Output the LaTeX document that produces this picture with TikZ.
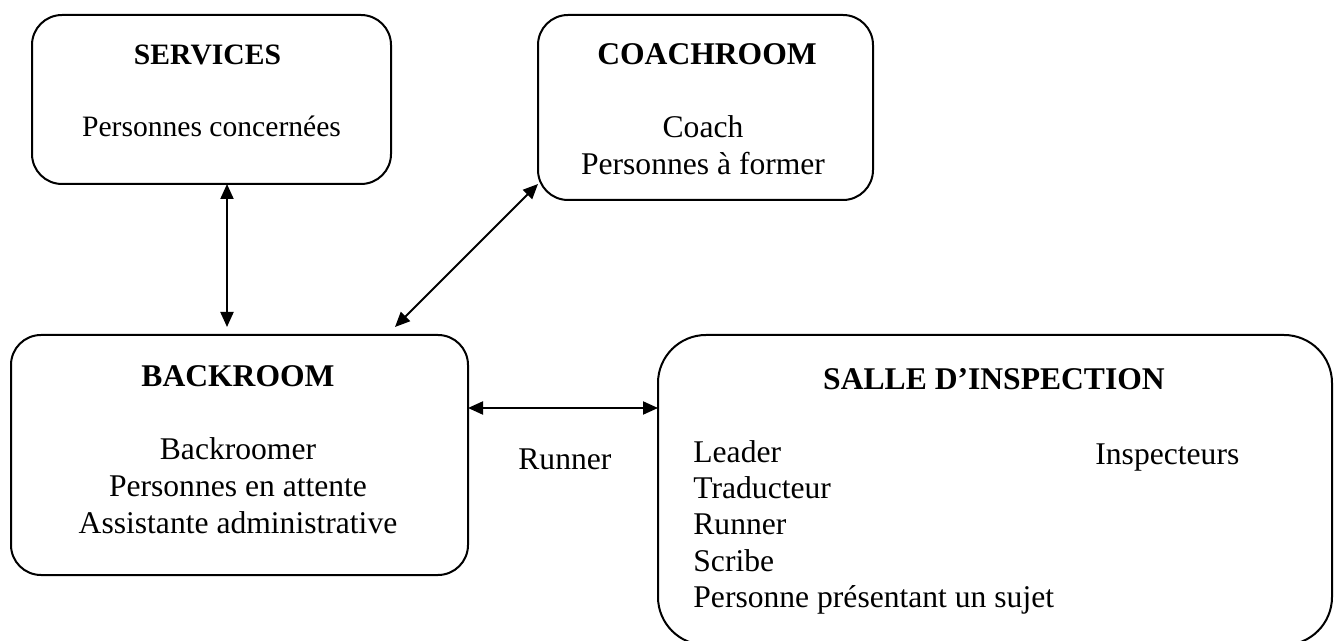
\documentclass[tikz,border=0pt]{standalone}
\usepackage{fontspec}
\setmainfont{Liberation Serif}
\usetikzlibrary{arrows.meta,calc}

\tikzset{
  room/.style={draw, line width=1pt, inner sep=0pt, outer sep=0pt},
  smallroom/.style={room, rounded corners=15pt},
  bigroom/.style={room, rounded corners=24pt},
  txt/.style={inner sep=0pt, anchor=base, font=\fontsize{15.8pt}{18pt}\selectfont},
  title/.style={txt, font=\fontsize{15.8pt}{18pt}\selectfont\bfseries},
  small/.style={font=\fontsize{14.8pt}{18pt}\selectfont},
  smalltitle/.style={font=\fontsize{14.8pt}{18pt}\selectfont\bfseries},
  ltxt/.style={txt, anchor=base west},
  link/.style={line width=1pt, {Triangle[length=7.5pt,width=6.5pt]}-{Triangle[length=7.5pt,width=6.5pt]}}
}

\begin{document}
\begin{tikzpicture}[x=0.5pt, y=-0.5pt]
  \path[use as bounding box, clip] (0,0) rectangle (1339,641);

  % rooms
  \node[smallroom, minimum width=179.5pt, minimum height=84.5pt]  (services) at (211.5,99.5) {};
  \node[smallroom, minimum width=167.5pt, minimum height=92.5pt]  (coach)    at (705.5,107.5) {};
  \node[smallroom, minimum width=228.5pt, minimum height=120pt]   (backroom) at (239.5,455) {};
  \node[bigroom,   minimum width=337pt,   minimum height=155pt]   (salle)    at (995,490) {};

  % SERVICES
  \node[title, smalltitle] (t-services) at (207.5,65) {SERVICES};
  \node[txt, small]        (s1) at (211.5,137) {Personnes concernées};

  % COACHROOM
  \node[title] (t-coach) at (707,65) {COACHROOM};
  \node[txt]   (c1) at (703,138) {Coach};
  \node[txt]   (c2) at (703,175) {Personnes à former};

  % BACKROOM
  \node[title] (t-back) at (238,387) {BACKROOM};
  \node[txt]   (b1) at (238,460) {Backroomer};
  \node[txt]   (b2) at (238,497) {Personnes en attente};
  \node[txt]   (b3) at (238,533) {Assistante administrative};

  % SALLE D'INSPECTION
  \node[title] (t-salle) at (994,390) {SALLE D’INSPECTION};
  \node[ltxt]  (i1) at (693,463) {Leader};
  \node[ltxt]  (i2) at (693,499) {Traducteur};
  \node[ltxt]  (i3) at (693,535) {Runner};
  \node[ltxt]  (i4) at (693,571) {Scribe};
  \node[ltxt]  (i5) at (693,607) {Personne présentant un sujet};
  \node[ltxt]  (i6) at (1095,465) {Inspecteurs};

  % label between the two lower rooms
  \node[ltxt]  (runner) at (518,470) {Runner};

  % connectors
  \coordinate (vx) at (227,0);
  \coordinate (hy) at (0,408);
  \draw[link, shorten >=4pt] (services.south -| vx) -- (backroom.north -| vx);
  \draw[link] ($(coach.west)+(0,76.5)$) -- ($(backroom.north)+(155.5,-8)$);
  \draw[link] (backroom.east |- hy) -- (salle.west |- hy);
\end{tikzpicture}
\end{document}
